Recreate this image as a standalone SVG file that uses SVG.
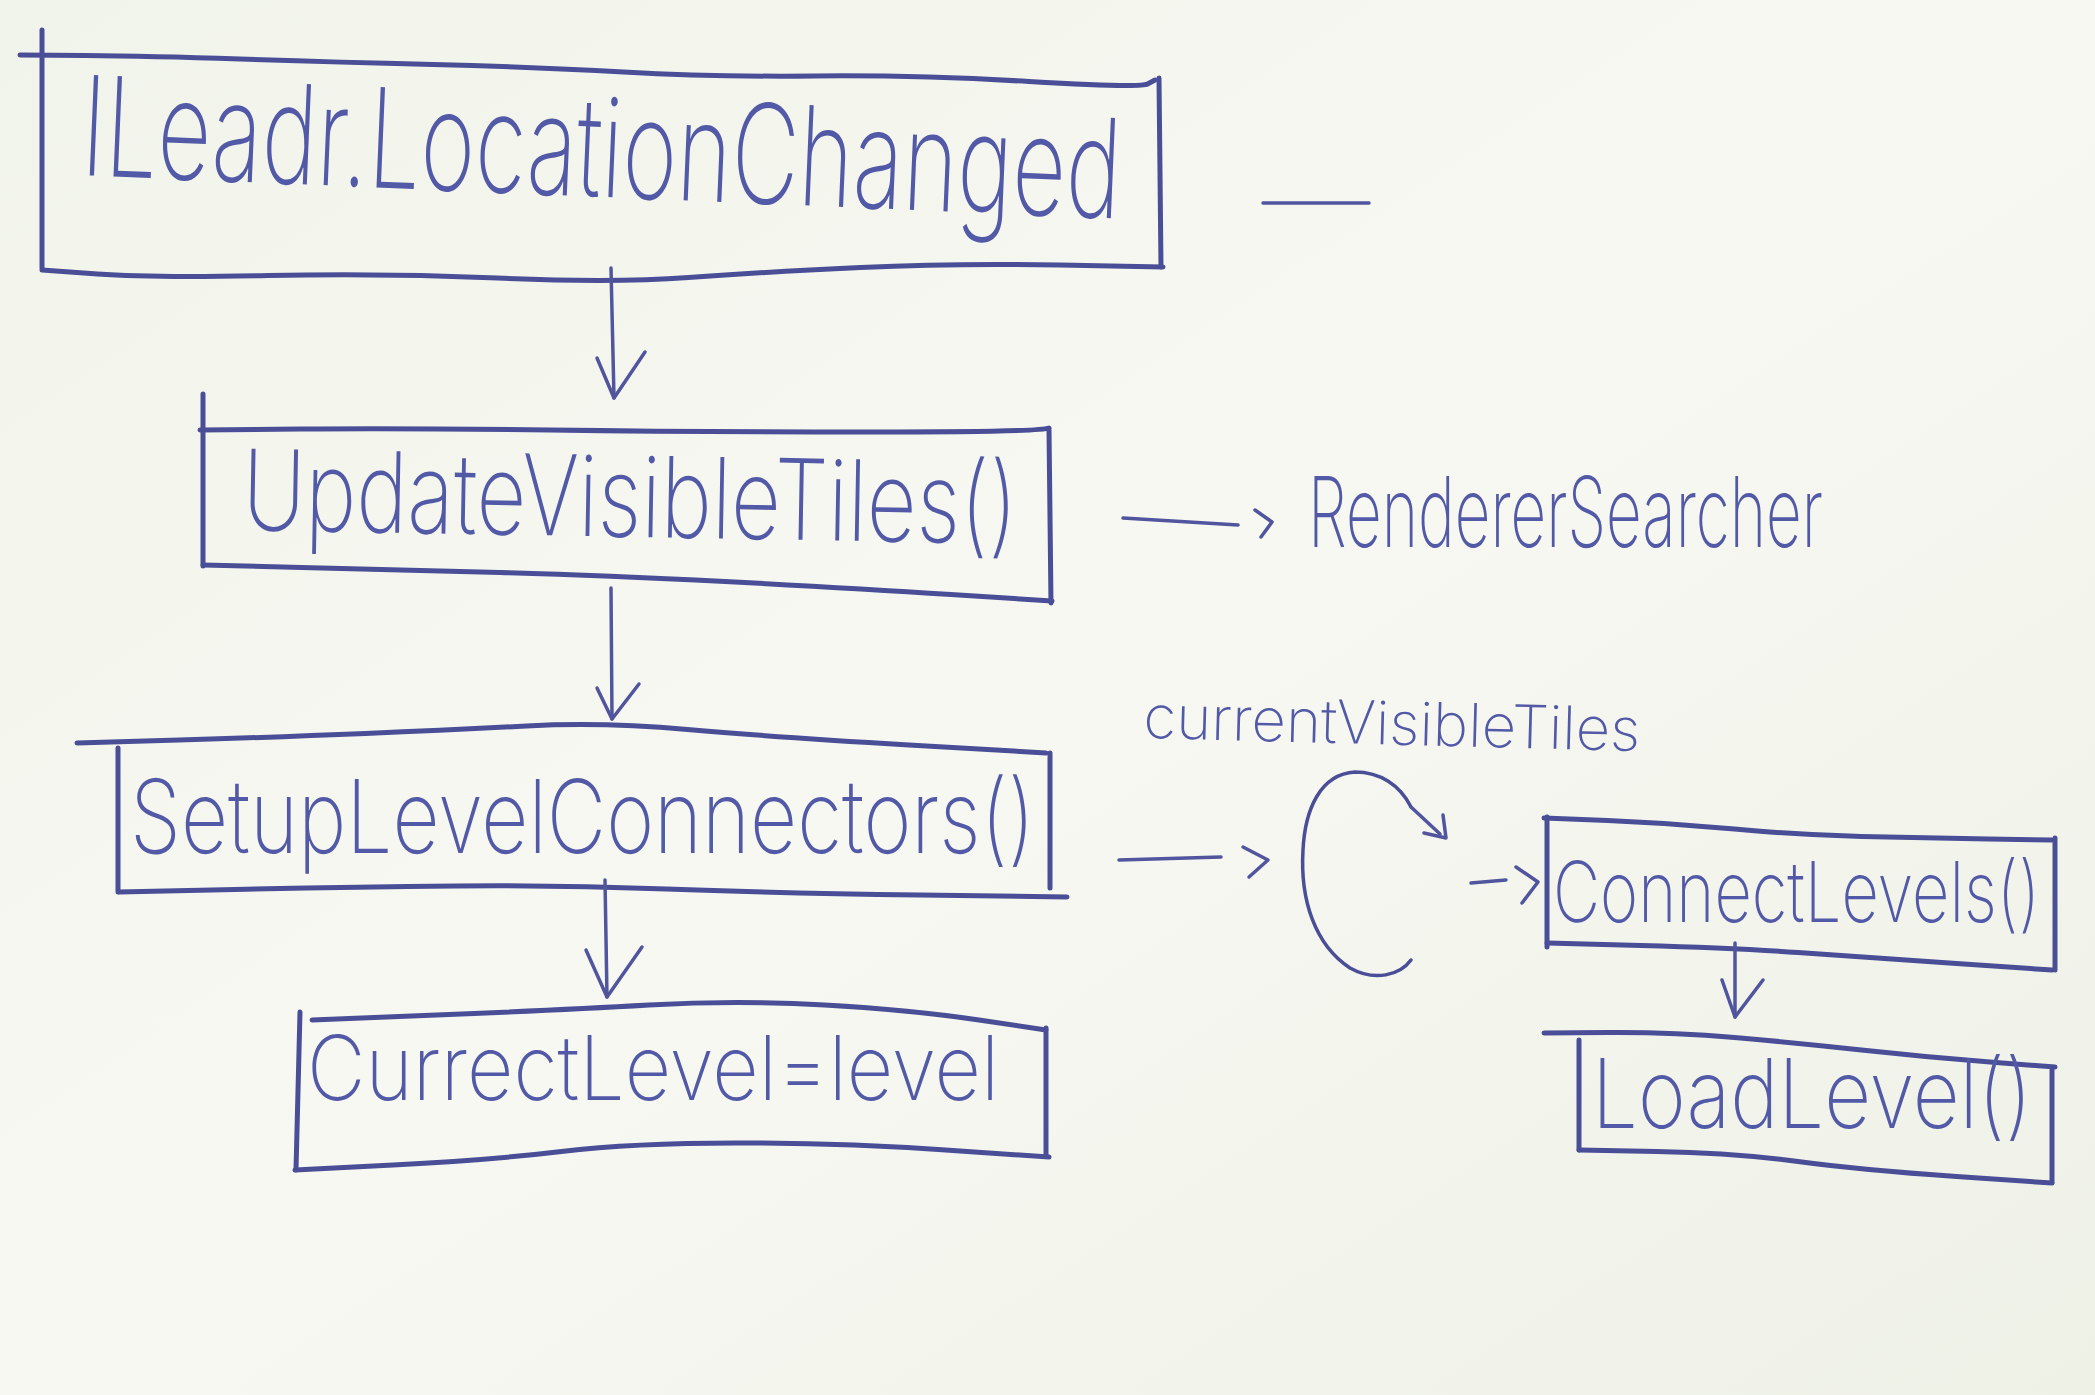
<svg xmlns="http://www.w3.org/2000/svg" width="2095" height="1395" viewBox="0 0 2095 1395">
<defs>
<linearGradient id="bg" x1="0" y1="0" x2="1" y2="1">
<stop offset="0" stop-color="#f1f4ea"/>
<stop offset="0.5" stop-color="#f7f8f2"/>
<stop offset="1" stop-color="#eef1e6"/>
</linearGradient>
<style>
.edge{fill:none;stroke:#4a4e96;stroke-width:5;stroke-linecap:round;stroke-linejoin:round}
.conn{fill:none;stroke:#50559e;stroke-width:3.5;stroke-linecap:round;stroke-linejoin:round}
.lbl{font-family:Inter,"Open Sans","Liberation Sans",sans-serif;font-weight:200;fill:#5259a6}
</style>
</defs>
<rect width="2095" height="1395" fill="url(#bg)"/>

<g id="node-ileadr">
<path class="edge" d="M20,55 L85,55.5 Q150,56 240,59 Q330,62 433,64.5 Q536,67 623.5,72 Q711,77 814.5,76 Q918,75 1029,81.5 Q1140,88 1147.5,84 L1155,80"/>
<path class="edge" d="M42,30 L42,268"/>
<path class="edge" d="M1159,78 L1161,267"/>
<path class="edge" d="M42,270 L97.5,274 Q153,278 268,275.5 Q383,273 497.5,278 Q612,283 688.5,277.5 Q765,272 860.5,267.5 Q956,263 1059.5,265 L1163,267"/>
<text class="lbl" x="80" y="175" font-size="138" textLength="1040" lengthAdjust="spacingAndGlyphs" transform="rotate(2.4 80 175)">ILeadr.LocationChanged</text>
</g>

<path class="conn" d="M1263,203 L1369,203"/>

<g id="node-update">
<path class="edge" d="M200,430 L300,429 Q400,428 550,430 Q700,432 870,432 Q1040,432 1049,428"/>
<path class="edge" d="M203,394 L203,566"/>
<path class="edge" d="M1049,430 L1051,603"/>
<path class="edge" d="M203,565 L301.5,567.5 Q400,570 500,572.5 Q600,575 725,581.5 Q850,588 951,594.5 L1052,601"/>
<text class="lbl" x="242" y="530" font-size="112" textLength="775" lengthAdjust="spacingAndGlyphs" transform="rotate(1 242 530)">UpdateVisibleTiles()</text>
</g>

<g id="node-renderer">
<text class="lbl" x="0" y="0" font-size="70" textLength="515" lengthAdjust="spacingAndGlyphs" transform="translate(1308 547) scale(1 1.4)">RendererSearcher</text>
</g>

<g id="node-setup">
<path class="edge" d="M77,743 L179,740 Q281,737 365.5,733.5 Q450,730 526.5,726 Q603,722 687.5,729.5 Q772,737 909,745 L1046,753"/>
<path class="edge" d="M118,748 L118,892"/>
<path class="edge" d="M1050,753 L1050,888"/>
<path class="edge" d="M119,892 L235,889.5 Q351,887 456,886 Q561,885 666.5,889 Q772,893 919.5,895 L1067,897"/>
<text class="lbl" x="130" y="853" font-size="102" textLength="905" lengthAdjust="spacingAndGlyphs">SetupLevelConnectors()</text>
</g>

<g id="node-current">
<path class="edge" d="M312,1020 L436.5,1015 Q561,1010 649,1005 Q737,1000 824.5,1005 Q912,1010 979,1020 L1046,1030"/>
<path class="edge" d="M300,1012 L296,1170"/>
<path class="edge" d="M1046,1028 L1046,1155"/>
<path class="edge" d="M295,1170 L393,1165 Q491,1160 561.5,1151.5 Q632,1143 737,1143 Q842,1143 945.5,1150 L1049,1157"/>
<text class="lbl" x="307" y="1100" font-size="90" textLength="692" lengthAdjust="spacingAndGlyphs">CurrectLevel=level</text>
</g>

<g id="node-loop">
<path class="edge" style="stroke-width:3.5" d="M1411,807 C1400,785 1380,772 1355,772 C1320,774 1305,810 1303,850 C1300,900 1315,945 1350,968 C1375,982 1400,975 1411,960"/>
</g>

<g id="node-visible-label">
<text class="lbl" x="1143" y="738" font-size="60" textLength="497" lengthAdjust="spacingAndGlyphs" transform="rotate(1.5 1143 738)">currentVisibleTiles</text>
</g>

<g id="node-connect">
<path class="edge" d="M1544,818 L1607.5,820.5 Q1671,823 1734.5,829 Q1798,835 1861.5,836.5 Q1925,838 1988.5,839 L2052,840"/>
<path class="edge" d="M1547,817 L1547,947"/>
<path class="edge" d="M2055,838 L2055,970"/>
<path class="edge" d="M1547,943 L1641,945.5 Q1735,948 1798,952.5 Q1861,957 1956.5,963.5 L2052,970"/>
<text class="lbl" x="0" y="0" font-size="58" textLength="487" lengthAdjust="spacingAndGlyphs" transform="translate(1553 922) scale(1 1.45)">ConnectLevels()</text>
</g>

<g id="node-load">
<path class="edge" d="M1544,1033 L1607.5,1032.5 Q1671,1032 1734.5,1037.5 Q1798,1043 1861.5,1050 Q1925,1057 1990,1062 L2055,1067"/>
<path class="edge" d="M1579,1040 L1579,1150"/>
<path class="edge" d="M2052,1070 L2052,1182"/>
<path class="edge" d="M1579,1150 L1657,1151.5 Q1735,1153 1798,1161.5 Q1861,1170 1956.5,1176.5 L2052,1183"/>
<text class="lbl" x="0" y="0" font-size="66" textLength="440" lengthAdjust="spacingAndGlyphs" transform="translate(1592 1128) scale(1 1.45)">LoadLevel()</text>
</g>

<g id="connectors">
<path class="conn" d="M611,268 L614,398"/>
<path class="conn" d="M597,358 L614,398 L645,352"/>
<path class="conn" d="M611,588 L612,719"/>
<path class="conn" d="M597,688 L612,719 L639,684"/>
<path class="conn" d="M1123,518 L1238,525"/>
<path class="conn" d="M1255,510 L1272,522 L1261,537"/>
<path class="conn" d="M605,880 L607,997"/>
<path class="conn" d="M586,950 L607,997 L642,947"/>
<path class="conn" d="M1119,860 L1221,857"/>
<path class="conn" d="M1243,847 L1268,860 L1249,877"/>
<path class="conn" d="M1411,807 L1440,834"/>
<path class="conn" d="M1443,815 L1446,838 L1424,833"/>
<path class="conn" d="M1471,883 L1506,880"/>
<path class="conn" d="M1516,867 L1538,882 L1522,903"/>
<path class="conn" d="M1735,943 L1735,1017"/>
<path class="conn" d="M1722,980 L1735,1017 L1763,980"/>
</g>
</svg>
